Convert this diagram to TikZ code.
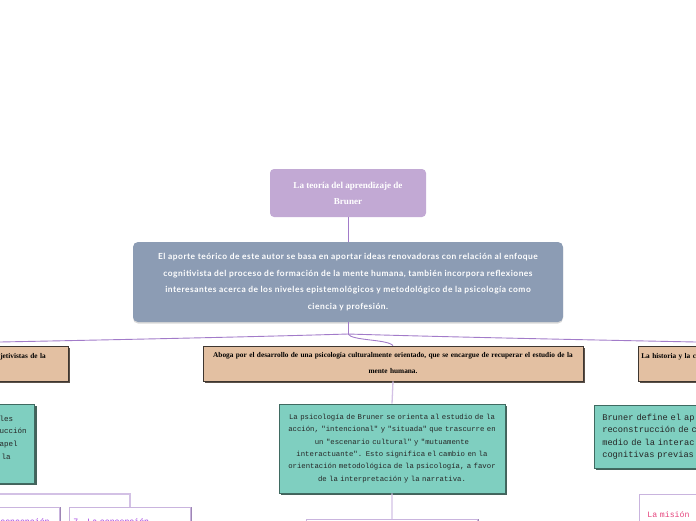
\documentclass[tikz,border=0pt]{standalone}
\usepackage{fontspec}
\setmainfont{Liberation Serif}
\newfontfamily\latof[LetterSpace=6]{Lato}
\newfontfamily\monof{Liberation Mono}
\usetikzlibrary{shadows}
\definecolor{lav}{HTML}{C2A9D4}
\definecolor{slate}{HTML}{8C9CB4}
\definecolor{tan}{HTML}{E3C0A2}
\definecolor{tanedge}{HTML}{3E3630}
\definecolor{tanshadow}{HTML}{5A5048}
\definecolor{teal}{HTML}{7FCFC0}
\definecolor{tealedge}{HTML}{3F6A61}
\definecolor{tealshadow}{HTML}{45625B}
\definecolor{connA}{HTML}{A27BC9}
\definecolor{connB}{HTML}{D3C1E5}
\definecolor{boxedge}{HTML}{C9B4DE}
\definecolor{boxshadow}{HTML}{9E86B5}
\definecolor{violettxt}{HTML}{A03CE0}
\definecolor{pinktxt}{HTML}{E6457E}
\tikzset{
  titlebox/.style={fill=lav, rounded corners=4pt, draw=none, text=white,
    font=\bfseries\fontsize{9.1}{16}\selectfont, align=center, inner sep=0pt},
  aportebox/.style={fill=slate, rounded corners=5pt, draw=none, text=white,
    font=\latof\bfseries\fontsize{8.4}{16.6}\selectfont, align=center, inner sep=0pt,
    drop shadow={shadow xshift=0pt, shadow yshift=-1.5pt, fill=black!25, opacity=0.6}},
  tanbox/.style={fill=tan, draw=tanedge, line width=0.6pt, text=black,
    font=\bfseries\fontsize{7.3}{16}\selectfont, inner sep=0pt,
    drop shadow={shadow xshift=2pt, shadow yshift=-2pt, fill=tanshadow, opacity=1}},
  tealbox/.style={fill=teal, draw=tealedge, line width=0.6pt, text=black!85,
    inner sep=0pt,
    drop shadow={shadow xshift=2pt, shadow yshift=-2pt, fill=tealshadow, opacity=1}},
  whitebox/.style={fill=white, draw=boxedge, line width=0.8pt, inner sep=0pt,
    drop shadow={shadow xshift=1.5pt, shadow yshift=0pt, fill=boxshadow, opacity=1}},
  conn/.style={draw=connA, line width=0.9pt},
  conn2/.style={draw=connB, line width=1.3pt},
}
\begin{document}
\begin{tikzpicture}[x=1pt,y=-1pt]
\useasboundingbox (0,0) rectangle (696,520);
\clip (0,0) rectangle (696,520);

% title
\node[titlebox, minimum width=156, minimum height=48] (title) at (348,193)
  {La teoría del aprendizaje de\\Bruner};

% aporte
\node[aportebox, minimum width=430, minimum height=80] (aporte) at (348,282)
  {El aporte teórico de este autor se basa en aportar ideas renovadoras con relación al enfoque\\
   cognitivista del proceso de formación de la mente humana, también incorpora reflexiones\\
   interesantes acerca de los niveles epistemológicos y metodológico de la psicología como\\
   ciencia y profesión.};

\coordinate (J) at (348,334);
\coordinate (Lend) at (0,342);
\coordinate (Rend) at (696,342);

% tan boxes
\node[tanbox, anchor=north west, minimum width=70, minimum height=35, text width=66,
  align=left, inner xsep=2pt] (tanL) at (-2,346) {jetivistas de la\\\mbox{}};
\node[tanbox, minimum width=380, minimum height=35, text width=376, align=center]
  (abog) at (393,363.5)
  {Aboga por el desarrollo de una psicología culturalmente orientado, que se encargue de recuperar el estudio de la\\
   mente humana.};
\node[tanbox, anchor=north west, minimum width=80, minimum height=35, text width=76,
  align=left, inner xsep=3pt] (tanR) at (638,346) {La historia y la c\\\mbox{}};

% teal boxes
\node[tealbox, anchor=north east, minimum width=49, minimum height=79, text width=21,
  align=right, inner xsep=14pt, font=\monof\fontsize{7.5}{12.6}\selectfont] (tealL) at (35,404)
  {les\rule{10pt}{0pt}\\ucción\\apel\rule{9pt}{0pt}\\la\rule{10pt}{0pt}\\\mbox{}};
\node[tealbox, minimum width=226, minimum height=89, text width=220, align=center,
  font=\monof\fontsize{7.3}{12.4}\selectfont] (psic) at (392,448.5)
  {La psicología de Bruner se orienta al estudio de la\\
   acción, "intencional" y "situada" que trascurre en\\
   un "escenario cultural" y "mutuamente\\
   interactuante". Esto significa el cambio en la\\
   orientación metodológica de la psicología, a favor\\
   de la interpretación y la narrativa.};
\node[tealbox, anchor=north west, minimum width=110, minimum height=63, text width=100,
  align=left, inner xsep=8pt, font=\monof\fontsize{8.7}{12.6}\selectfont] (tealR) at (594,405)
  {Bruner define el ap\\reconstrucción de c\\medio de la interac\\cognitivas previas};

% bottom boxes
\node[whitebox, anchor=north west, minimum width=171, minimum height=30] (bot) at (306,519) {};
\node[whitebox, anchor=north east, minimum width=120, minimum height=30, text width=110,
  align=right, inner xsep=5pt, inner ysep=8pt,
  font=\monof\fontsize{8.2}{12}\selectfont, text=violettxt] (boxA) at (60,507) {concepción\rule{5pt}{0pt}};
\node[whitebox, anchor=north west, minimum width=121, minimum height=30, text width=113,
  align=left, inner xsep=4pt, inner ysep=7pt,
  font=\monof\fontsize{8.2}{12}\selectfont, text=violettxt] (boxB) at (69,507) {7. La concepción};
\node[whitebox, anchor=north west, minimum width=80, minimum height=40, text width=70,
  align=left, inner xsep=8pt, inner ysep=9pt,
  font=\monof\fontsize{8.2}{12}\selectfont, text=pinktxt] (pink) at (639,494) {La misión};

% connectors
\draw[conn] (title.south) -- (aporte.north);
\draw[conn] (aporte.south) -- (J);
\draw[conn] (J) .. controls (250,337) and (100,340) .. (Lend);
\draw[conn] (J) .. controls (446,337) and (596,340) .. (Rend);
\draw[conn] (J) .. controls (352,341) and (388,339) .. (abog.north);
\draw[conn2] (abog.south) -- (psic.north);
\draw[conn2] (psic.south) -- (bot.north);
\coordinate (LB) at (0,494);
\draw[conn2] (LB) -| (boxB.north);
\end{tikzpicture}
\end{document}
